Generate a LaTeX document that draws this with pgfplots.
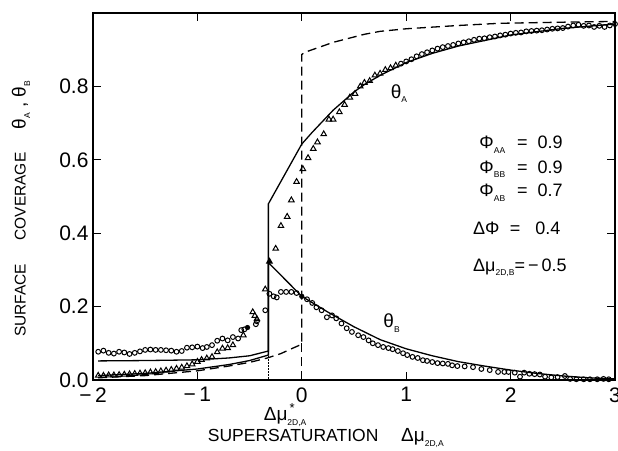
\documentclass[border=0pt]{standalone}
\usepackage{fontspec}
\setmainfont{Liberation Sans}
\usepackage{pgfplots}
\pgfplotsset{compat=1.18}
\newcommand\lsub[1]{\raisebox{-0.45ex}{\fontsize{8.5}{8.5}\selectfont #1}}
\newcommand\supsub[2]{\rlap{\raisebox{0.8ex}{\fontsize{13}{13}\selectfont\,#1}}\raisebox{-0.45ex}{\fontsize{8.5}{8.5}\selectfont #2}}
\begin{document}
\begin{tikzpicture}
\path[use as bounding box] (-93pt,-70pt) rectangle (525pt,380pt);
\begin{axis}[at={(0,0)}, anchor=south west, scale only axis,
  width=522pt, height=367pt,
  xmin=-2, xmax=3, ymin=0, ymax=1,
  xtick={-2,-1,0,1,2,3}, xticklabels={−\,2,−\,1,0,1,2,3},
  ytick={0,0.2,0.4,0.6,0.8}, yticklabels={0.0,0.2,0.4,0.6,0.8},
  tick align=inside, major tick length=8pt,
  tick style={line width=1.2pt, black},
  axis line style={line width=1.5pt},
  ticklabel style={font=\fontsize{21}{21}\selectfont},
  xticklabel style={yshift=-4pt},
  yticklabel style={xshift=-1pt},
  clip=false,
  xlabel={SUPERSATURATION\hspace{1.3em}\fontsize{19}{19}\selectfont Δμ\lsub{2D,A}},
  xlabel style={at={(axis description cs:0.446,-0.158)}, anchor=center, font=\fontsize{17.5}{17.5}\selectfont},
  ylabel={SURFACE\hspace{1.5em}COVERAGE\hspace{1.5em}\fontsize{19}{19}\selectfont θ\lsub{A} , θ\lsub{B}},
  ylabel style={at={(axis description cs:-0.138,0.466)}, anchor=center, font=\fontsize{15.5}{15.5}\selectfont},
]
% dashed theory curve
\addplot[black, line width=1.3pt, dash pattern=on 9pt off 5pt] coordinates {
(-1.95,0.006) (-1.5,0.012) (-1.0,0.025) (-0.7,0.038) (-0.5,0.048) (-0.33,0.06) (-0.2,0.072) (-0.1,0.085) (-0.02,0.095) (0,0.10)
(0,0.887) (0.03,0.893) (0.1,0.9) (0.3,0.92) (0.6,0.942) (0.75,0.95) (1.0,0.957) (1.5,0.966) (1.9,0.972) (2.5,0.975) (3,0.977)};
\addplot[black, line width=1.3pt, dash pattern=on 9pt off 5pt] coordinates {(0,0) (0,0.10)};
% dotted marker line
\addplot[black, line width=0.5pt, densely dotted] coordinates {(-0.32,0) (-0.32,0.07)};
% solid theta_A
\addplot[black, line width=1.3pt] coordinates {
(-1.95,0.012) (-1.5,0.018) (-1.0,0.03) (-0.7,0.042) (-0.5,0.053) (-0.32,0.068)
(-0.32,0.48) (0,0.643) (0.1,0.675) (0.2,0.705) (0.3,0.735) (0.4,0.76) (0.5,0.785) (0.6,0.805) (0.75,0.83) (1.0,0.865) (1.25,0.89) (1.5,0.91) (1.75,0.925) (2.0,0.94) (2.5,0.958) (3,0.97)};
% solid theta_B
\addplot[black, line width=1.3pt] coordinates {
(-1.95,0.052) (-1.5,0.053) (-1.0,0.055) (-0.7,0.06) (-0.5,0.066) (-0.32,0.079)
(-0.32,0.32) (0,0.228) (0.25,0.185) (0.5,0.145) (0.75,0.11) (1.0,0.085) (1.25,0.066) (1.5,0.05) (1.75,0.038) (2.0,0.027) (2.25,0.018) (2.5,0.011) (2.75,0.006) (3,0.003)};
% theta_A data: triangles
\addplot[only marks, mark=triangle, mark size=3.2pt, line width=1pt, black] coordinates {
(-1.95,0.012) (-1.90,0.012) (-1.85,0.013) (-1.80,0.013) (-1.75,0.014) (-1.70,0.015) (-1.65,0.016) (-1.60,0.017) (-1.55,0.018) (-1.50,0.019) (-1.45,0.021) (-1.40,0.022) (-1.35,0.024) (-1.30,0.026) (-1.25,0.028) (-1.20,0.031) (-1.15,0.034) (-1.10,0.038) (-1.05,0.043) (-1.00,0.05) (-0.96,0.055) (-0.91,0.059) (-0.86,0.063) (-0.81,0.076) (-0.76,0.086) (-0.71,0.087) (-0.66,0.095) (-0.56,0.122) (-0.47,0.185) (-0.45,0.175) (-0.43,0.166) (-0.35,0.247) (-0.25,0.358) (-0.2,0.42) (-0.14,0.445) (-0.1,0.49) (-0.05,0.54) (0.01,0.575) (0.06,0.605) (0.11,0.63) (0.15,0.648) (0.21,0.67) (0.26,0.71) (0.30,0.71) (0.36,0.73) (0.41,0.75) (0.46,0.77) (0.51,0.78) (0.56,0.80) (0.60,0.81) (0.65,0.815) (0.70,0.83) (0.75,0.835) (0.80,0.845) (0.85,0.85) (0.90,0.857)};
\addplot[only marks, mark=triangle*, mark size=3.2pt, line width=1pt, black] coordinates {(-0.31,0.323)};
% theta_A data at high x: circles
\addplot[only marks, mark=o, mark size=2.4pt, line width=1pt, black] coordinates {
(0.95,0.862) (1.0,0.868) (1.05,0.874) (1.1,0.882) (1.15,0.888) (1.2,0.893) (1.25,0.898) (1.3,0.903) (1.35,0.907) (1.4,0.91) (1.45,0.913) (1.5,0.917) (1.55,0.92) (1.6,0.923) (1.65,0.927) (1.7,0.93) (1.75,0.931) (1.8,0.934) (1.85,0.936) (1.9,0.939) (1.95,0.941) (2.0,0.944) (2.05,0.946) (2.1,0.947) (2.15,0.95) (2.2,0.951) (2.25,0.952) (2.3,0.953) (2.35,0.955) (2.4,0.957) (2.45,0.958) (2.5,0.959) (2.55,0.963) (2.6,0.966) (2.65,0.968) (2.7,0.965) (2.75,0.966) (2.8,0.962) (2.85,0.965) (2.9,0.962) (2.95,0.966) (3.0,0.97)};
% theta_B data: circles
\addplot[only marks, mark=o, mark size=2.4pt, line width=1pt, black] coordinates {
(-1.95,0.077) (-1.90,0.08) (-1.85,0.074) (-1.80,0.072) (-1.75,0.077) (-1.70,0.075) (-1.65,0.071) (-1.60,0.074) (-1.55,0.078) (-1.50,0.082) (-1.45,0.083) (-1.40,0.082) (-1.35,0.082) (-1.30,0.081) (-1.25,0.08) (-1.20,0.077) (-1.15,0.079) (-1.10,0.088) (-1.05,0.089) (-1.00,0.091) (-0.95,0.087) (-0.91,0.09) (-0.86,0.095) (-0.81,0.107) (-0.76,0.113) (-0.71,0.108) (-0.66,0.117) (-0.61,0.113) (-0.58,0.136) (-0.55,0.138) (-0.44,0.152) (-0.43,0.16) (-0.35,0.19) (-0.31,0.235) (-0.27,0.228) (-0.24,0.225) (-0.2,0.24) (-0.15,0.24) (-0.1,0.24) (-0.05,0.237)
(0.05,0.22) (0.1,0.21) (0.14,0.198) (0.19,0.19) (0.24,0.171) (0.29,0.176) (0.33,0.168) (0.38,0.154) (0.43,0.141) (0.48,0.131) (0.54,0.122) (0.59,0.117) (0.64,0.108) (0.68,0.1) (0.73,0.095) (0.78,0.09) (0.83,0.087) (0.87,0.084) (0.92,0.079) (0.97,0.073) (1.01,0.068) (1.06,0.063) (1.11,0.06) (1.16,0.054) (1.2,0.052) (1.25,0.049) (1.3,0.046) (1.35,0.045) (1.4,0.044) (1.44,0.04) (1.49,0.038) (1.56,0.037) (1.64,0.035) (1.72,0.03) (1.8,0.027) (1.88,0.022) (1.94,0.022) (1.98,0.022) (2.04,0.02) (2.09,0.009) (2.13,0.02) (2.18,0.017) (2.23,0.016) (2.28,0.015) (2.33,0.009) (2.39,0.007) (2.45,0.008) (2.52,0.011) (2.57,0.003) (2.63,0.002) (2.7,0.002) (2.76,0.002) (2.83,0.002) (2.89,0.003) (2.94,0.002)};
\addplot[only marks, mark=*, mark size=2.4pt, black] coordinates {(-0.52,0.143) (0,0.228)};
% annotations
\node[anchor=center, font=\fontsize{19}{19}\selectfont] at (axis cs:0.93,0.78) {θ\lsub{A}};
\node[anchor=center, font=\fontsize{19}{19}\selectfont] at (axis cs:0.86,0.155) {θ\lsub{B}};
\begin{scope}[every node/.style={font=\fontsize{18}{18}\selectfont, inner sep=0pt}]
\node[anchor=base west] at (axis cs:1.70,0.63) {Φ\lsub{AA}};
\node[anchor=base west] at (axis cs:1.70,0.564) {Φ\lsub{BB}};
\node[anchor=base west] at (axis cs:1.70,0.499) {Φ\lsub{AB}};
\node[anchor=base west] at (axis cs:1.64,0.396) {ΔΦ};
\node[anchor=base west] at (axis cs:1.64,0.296) {Δμ\lsub{2D,B}=\,−\,0.5};
\node[anchor=base west] at (axis cs:2.06,0.63) {=\; 0.9};
\node[anchor=base west] at (axis cs:2.06,0.564) {=\; 0.9};
\node[anchor=base west] at (axis cs:2.06,0.499) {=\; 0.7};
\node[anchor=base west] at (axis cs:1.99,0.396) {=\;\; 0.4};
\end{scope}
\node[anchor=center, font=\fontsize{19}{19}\selectfont] at (axis cs:-0.16,-0.095) {Δμ\supsub{*}{2D,A}};
\end{axis}
\end{tikzpicture}
\end{document}
